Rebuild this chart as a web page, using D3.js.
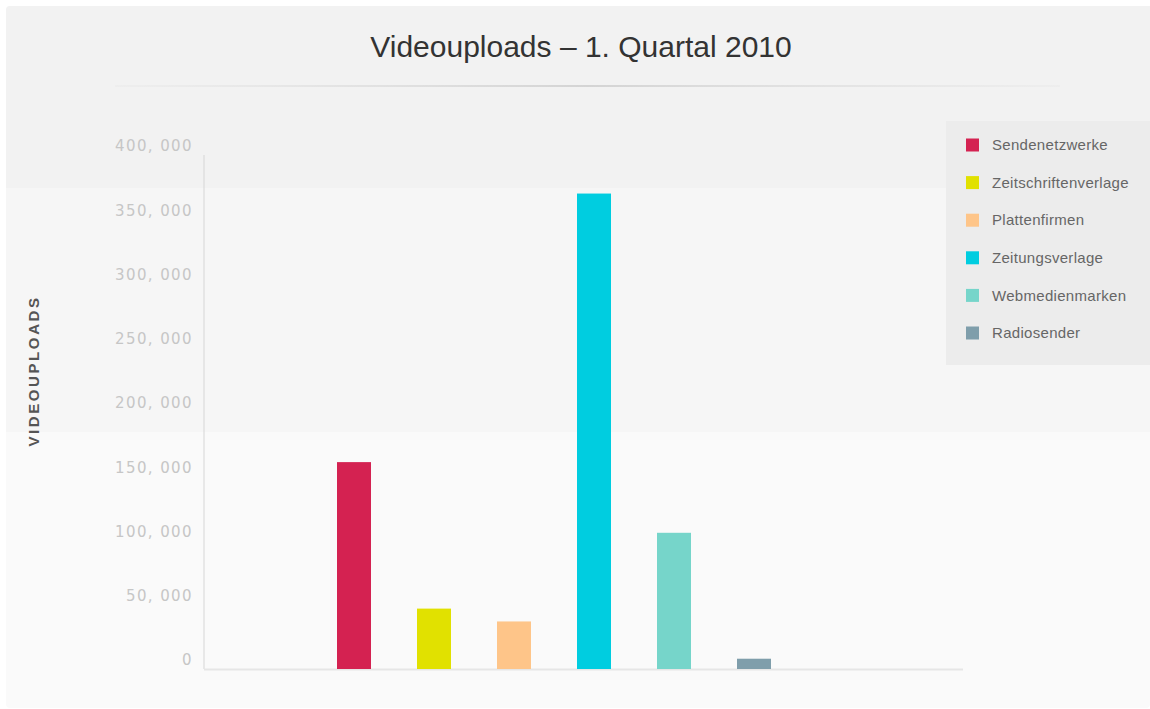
<!DOCTYPE html>
<html>
<head>
<meta charset="utf-8">
<script src="https://cdn.jsdelivr.net/npm/d3@7"></script>
<style>
  body { margin: 0; background: #fff; }
  svg { display: block; }
</style>
</head>
<body>
<script>
// data
const categories = ['Sendenetzwerke', 'Zeitschriftenverlage', 'Plattenfirmen', 'Zeitungsverlage', 'Webmedienmarken', 'Radiosender']
const uploads = [161000, 47000, 37000, 370000, 106000, 8000]
const colors = ['#d42251', '#e1e100', '#fec589', '#00cde0', '#76d5ca', '#7f9eab']
const yTicks = [0, 50000, 100000, 150000, 200000, 250000, 300000, 350000, 400000]

const W = 1150, H = 709

const svg = d3.select('body').append('svg')
  .attr('width', W)
  .attr('height', H)

// background bands
svg.append('rect').attr('x', 6).attr('y', 6).attr('width', W - 6).attr('height', H - 7)
  .attr('rx', 4).attr('fill', '#fafafa')
svg.append('path').attr('d', 'M6,10 Q6,6 10,6 L1150,6 L1150,188 L6,188 Z').attr('fill', '#f2f2f2')
svg.append('rect').attr('x', 6).attr('y', 188).attr('width', W - 6).attr('height', 244).attr('fill', '#f6f6f6')

// title
svg.append('text')
  .attr('x', 581).attr('y', 57)
  .attr('text-anchor', 'middle')
  .style('font-family', '"Liberation Sans", Arial, sans-serif')
  .style('font-size', '30px')
  .style('fill', '#333')
  .text('Videouploads – 1. Quartal 2010')

const grad = svg.append('defs').append('linearGradient').attr('id', 'tl')
grad.append('stop').attr('offset', '0%').attr('stop-color', '#ddd').attr('stop-opacity', 0.2)
grad.append('stop').attr('offset', '50%').attr('stop-color', '#d4d4d4').attr('stop-opacity', 1)
grad.append('stop').attr('offset', '100%').attr('stop-color', '#ddd').attr('stop-opacity', 0.2)
svg.append('rect').attr('x', 115).attr('y', 85).attr('width', 945).attr('height', 2).attr('fill', 'url(#tl)')

// scales
const y = d3.scaleLinear().domain([0, 400000]).range([669, 155])
const x = d3.scaleBand().domain(categories).range([314, 794])
  .paddingInner(0.575).paddingOuter(0.2875)

// axis lines
svg.append('line').attr('x1', 204).attr('x2', 204).attr('y1', 155).attr('y2', 669)
  .attr('stroke', '#d6d6d6').attr('stroke-width', 1)
svg.append('line').attr('x1', 204).attr('x2', 963).attr('y1', 669.5).attr('y2', 669.5)
  .attr('stroke', '#e6e6e6').attr('stroke-width', 2)

// tick labels
const fmt = d => d3.format(',')(d).replace(',', ', ')
svg.append('g').selectAll('text')
  .data(yTicks)
  .join('text')
  .attr('x', 193)
  .attr('y', d => y(d) - 9)
  .attr('dy', '0.35em')
  .attr('text-anchor', 'end')
  .style('font-family', '"DejaVu Sans", sans-serif')
  .style('font-size', '15px')
  .style('letter-spacing', '1.4px')
  .style('fill', '#c6c6c6')
  .text(fmt)

// y title
svg.append('text')
  .attr('transform', 'translate(39,371) rotate(-90)')
  .attr('text-anchor', 'middle')
  .style('font-family', '"Liberation Sans", Arial, sans-serif')
  .style('font-size', '15px')
  .style('font-weight', 'bold')
  .style('letter-spacing', '2.6px')
  .style('fill', '#555')
  .text('VIDEOUPLOADS')

// bars
svg.append('g').selectAll('rect')
  .data(categories)
  .join('rect')
  .attr('x', d => x(d))
  .attr('y', (d, i) => y(uploads[i]))
  .attr('width', x.bandwidth())
  .attr('height', (d, i) => y(0) - y(uploads[i]))
  .attr('fill', (d, i) => colors[i])

// legend
const lg = svg.append('g')
lg.append('rect').attr('x', 946).attr('y', 121).attr('width', 204).attr('height', 244).attr('fill', '#ececec')
const item = lg.selectAll('g.item')
  .data(categories)
  .join('g')
  .attr('class', 'item')
  .attr('transform', (d, i) => `translate(966,${145 + i * 37.6})`)
item.append('rect').attr('x', 0).attr('y', -6.5).attr('width', 13).attr('height', 13)
  .attr('fill', (d, i) => colors[i])
item.append('text')
  .attr('x', 26).attr('dy', '0.35em')
  .style('font-family', '"Liberation Sans", Arial, sans-serif')
  .style('font-size', '15px')
  .style('letter-spacing', '0.3px')
  .style('fill', '#666')
  .text(d => d)
</script>
</body>
</html>
